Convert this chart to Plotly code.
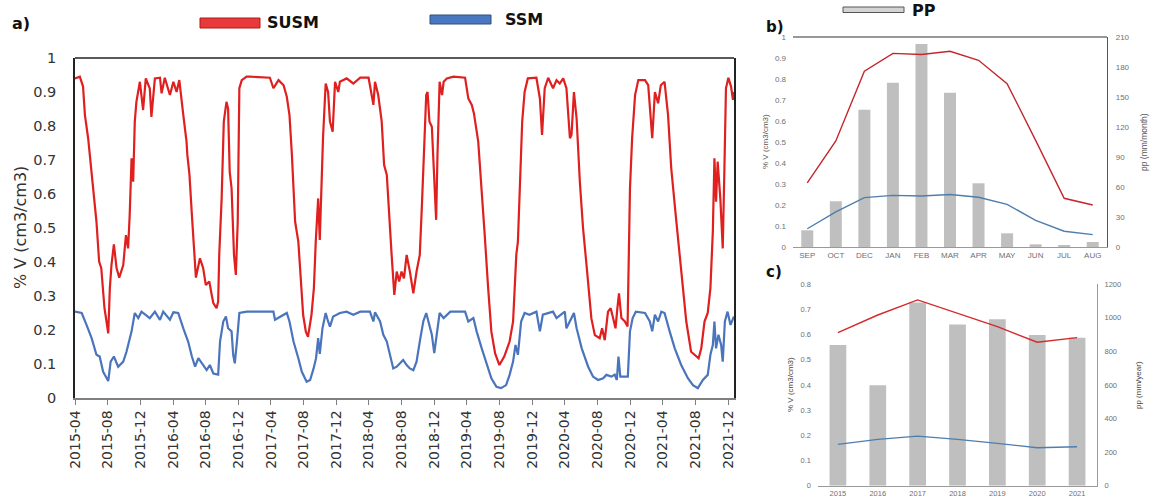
import plotly.graph_objects as go

W, H = 1151, 503

# ---------------- data: panel a (daily soil moisture) ----------------
susm_dates = [
    "2015-04-01","2015-04-19","2015-05-01","2015-05-08","2015-05-20","2015-06-02","2015-06-20","2015-06-30",
    "2015-07-08","2015-07-20","2015-08-03","2015-08-09","2015-08-15","2015-08-24","2015-09-03","2015-09-13",
    "2015-09-28","2015-10-08","2015-10-16","2015-10-22","2015-10-29","2015-11-04","2015-11-10","2015-11-16",
    "2015-11-29","2015-12-11","2015-12-21","2016-01-05","2016-01-11","2016-01-24","2016-02-12","2016-02-18",
    "2016-03-01","2016-03-20","2016-04-02","2016-04-14","2016-04-24","2016-05-09","2016-05-21","2016-05-24",
    "2016-06-01","2016-06-10","2016-06-18","2016-06-25","2016-07-10","2016-07-22","2016-08-01","2016-08-14",
    "2016-08-23","2016-08-29","2016-09-10","2016-09-16","2016-09-20","2016-09-29","2016-10-07","2016-10-17",
    "2016-10-23","2016-10-29","2016-11-05","2016-11-14","2016-11-21","2016-11-28","2016-12-04","2016-12-13",
    "2016-12-31","2017-01-13","2017-03-28","2017-04-10","2017-04-29","2017-05-18","2017-05-30","2017-06-09",
    "2017-06-18","2017-06-24","2017-06-30","2017-07-12","2017-07-21","2017-07-30","2017-08-09","2017-08-17",
    "2017-08-30","2017-09-08","2017-09-15","2017-09-24","2017-09-30","2017-10-06","2017-10-12","2017-10-22",
    "2017-10-31","2017-11-07","2017-11-17","2017-11-26","2017-12-08","2017-12-14","2018-01-08","2018-02-02",
    "2018-02-28","2018-03-31","2018-04-18","2018-04-24","2018-05-06","2018-05-19","2018-05-28","2018-06-07",
    "2018-06-13","2018-06-25","2018-07-05","2018-07-14","2018-07-23","2018-08-01","2018-08-10","2018-08-20",
    "2018-09-01","2018-09-14","2018-09-26","2018-10-08","2018-10-16","2018-10-24","2018-11-01","2018-11-06",
    "2018-11-13","2018-11-22","2018-12-01","2018-12-08","2018-12-13","2018-12-21","2018-12-30","2019-01-05",
    "2019-01-17","2019-02-11","2019-03-26","2019-04-07","2019-04-20","2019-04-28","2019-05-14","2019-05-27",
    "2019-06-08","2019-06-20","2019-07-02","2019-07-16","2019-08-01","2019-08-19","2019-09-08","2019-09-21",
    "2019-09-27","2019-10-03","2019-10-09","2019-10-15","2019-10-25","2019-11-03","2019-11-15","2019-12-17",
    "2019-12-30","2020-01-07","2020-01-17","2020-01-30","2020-02-17","2020-03-01","2020-03-13","2020-03-26",
    "2020-04-07","2020-04-20","2020-04-26","2020-05-05","2020-05-15","2020-05-27","2020-06-08","2020-06-21",
    "2020-07-09","2020-07-22","2020-08-09","2020-08-18","2020-08-28","2020-09-09","2020-09-19","2020-09-28",
    "2020-10-07","2020-10-14","2020-10-20","2020-10-29","2020-11-11","2020-11-21","2020-11-30","2020-12-08",
    "2020-12-19","2020-12-31","2021-01-25","2021-02-06","2021-02-12","2021-02-21","2021-03-03","2021-03-15",
    "2021-03-25","2021-04-08","2021-04-21","2021-05-03","2021-05-22","2021-06-09","2021-06-28","2021-07-16",
    "2021-08-04","2021-08-13","2021-08-23","2021-09-04","2021-09-16","2021-09-26","2021-10-05","2021-10-11",
    "2021-10-17","2021-10-23","2021-11-02","2021-11-11","2021-11-17","2021-11-23","2021-12-02","2021-12-12",
    "2021-12-19","2021-12-23",
]
susm_values = [
    0.940,0.945,0.916,0.832,0.764,0.656,0.519,0.401,
    0.382,0.264,0.190,0.323,0.391,0.452,0.382,0.354,
    0.391,0.479,0.440,0.538,0.705,0.636,0.813,0.871,
    0.930,0.847,0.940,0.910,0.827,0.940,0.942,0.896,
    0.942,0.891,0.930,0.900,0.935,0.832,0.754,0.715,
    0.656,0.538,0.421,0.354,0.411,0.382,0.332,0.343,
    0.303,0.279,0.264,0.284,0.421,0.587,0.813,0.871,
    0.851,0.666,0.617,0.421,0.362,0.519,0.911,0.935,
    0.945,0.945,0.942,0.911,0.935,0.920,0.886,0.832,
    0.715,0.617,0.519,0.460,0.342,0.244,0.195,0.180,
    0.244,0.323,0.460,0.587,0.465,0.617,0.764,0.925,
    0.900,0.813,0.783,0.930,0.900,0.930,0.940,0.925,
    0.942,0.942,0.862,0.930,0.891,0.813,0.685,0.656,
    0.568,0.421,0.303,0.372,0.343,0.372,0.352,0.421,
    0.372,0.308,0.372,0.421,0.568,0.715,0.891,0.900,
    0.813,0.798,0.617,0.524,0.715,0.930,0.891,0.930,
    0.940,0.945,0.942,0.881,0.862,0.837,0.754,0.617,
    0.470,0.323,0.195,0.131,0.097,0.122,0.166,0.225,
    0.323,0.421,0.460,0.617,0.813,0.900,0.940,0.942,
    0.881,0.774,0.911,0.942,0.911,0.935,0.925,0.940,
    0.911,0.764,0.774,0.900,0.822,0.636,0.499,0.391,
    0.234,0.185,0.176,0.205,0.170,0.254,0.264,0.235,
    0.205,0.264,0.308,0.235,0.225,0.210,0.617,0.764,
    0.891,0.935,0.935,0.920,0.862,0.764,0.900,0.867,
    0.920,0.930,0.832,0.675,0.519,0.372,0.225,0.136,
    0.122,0.117,0.146,0.225,0.250,0.323,0.489,0.705,
    0.577,0.695,0.587,0.440,0.666,0.911,0.942,0.916,
    0.877,0.900,
]

ssm_dates = [
    "2015-04-01","2015-04-26","2015-05-14","2015-06-02","2015-06-20","2015-07-02","2015-07-15","2015-08-03",
    "2015-08-12","2015-08-24","2015-09-09","2015-09-28","2015-10-10","2015-10-20","2015-10-29","2015-11-10",
    "2015-11-23","2015-12-05","2016-01-05","2016-01-24","2016-02-12","2016-02-24","2016-03-20","2016-04-02",
    "2016-04-20","2016-05-09","2016-05-27","2016-06-10","2016-06-22","2016-07-04","2016-07-17","2016-08-04",
    "2016-08-16","2016-08-29","2016-09-16","2016-09-23","2016-10-05","2016-10-15","2016-10-23","2016-11-05",
    "2016-11-11","2016-11-17","2016-11-25","2016-12-04","2016-12-31","2017-04-10","2017-04-16","2017-05-30",
    "2017-06-09","2017-06-24","2017-07-12","2017-07-25","2017-08-12","2017-08-25","2017-09-07","2017-09-16",
    "2017-09-24","2017-09-30","2017-10-10","2017-10-22","2017-10-31","2017-11-07","2017-11-19","2017-12-14",
    "2018-01-08","2018-02-02","2018-02-28","2018-04-05","2018-04-18","2018-04-24","2018-05-13","2018-05-25",
    "2018-06-07","2018-06-19","2018-07-01","2018-07-14","2018-07-27","2018-08-07","2018-08-20","2018-09-01",
    "2018-09-14","2018-09-26","2018-10-08","2018-10-21","2018-11-01","2018-11-09","2018-11-22","2018-12-01",
    "2018-12-10","2018-12-21","2019-01-05","2019-01-30","2019-03-26","2019-04-07","2019-04-26","2019-05-08",
    "2019-05-27","2019-06-15","2019-07-02","2019-07-21","2019-08-07","2019-08-26","2019-09-08","2019-09-21",
    "2019-09-30","2019-10-09","2019-10-21","2019-11-03","2019-11-21","2019-12-17","2019-12-30","2020-01-10",
    "2020-02-17","2020-03-01","2020-04-01","2020-04-07","2020-04-26","2020-05-05","2020-05-15","2020-06-03",
    "2020-06-27","2020-07-15","2020-08-03","2020-08-22","2020-09-03","2020-09-22","2020-10-04","2020-10-12",
    "2020-10-18","2020-10-25","2020-11-10","2020-11-22","2020-11-30","2020-12-10","2020-12-22","2021-01-25",
    "2021-02-12","2021-02-21","2021-03-03","2021-03-15","2021-03-27","2021-04-08","2021-04-27","2021-05-16",
    "2021-06-09","2021-07-04","2021-07-23","2021-08-10","2021-08-29","2021-09-16","2021-09-26","2021-10-05",
    "2021-10-11","2021-10-17","2021-10-26","2021-11-05","2021-11-11","2021-11-19","2021-11-29","2021-12-10",
    "2021-12-23",
]
ssm_values = [
    0.254,0.250,0.215,0.176,0.127,0.122,0.077,0.050,
    0.107,0.122,0.092,0.107,0.136,0.166,0.196,0.250,
    0.235,0.254,0.235,0.254,0.230,0.254,0.230,0.252,
    0.250,0.205,0.166,0.122,0.092,0.117,0.102,0.082,
    0.097,0.072,0.069,0.166,0.225,0.240,0.205,0.196,
    0.127,0.102,0.166,0.250,0.254,0.254,0.230,0.250,
    0.225,0.166,0.117,0.077,0.048,0.053,0.087,0.117,
    0.176,0.130,0.205,0.250,0.225,0.210,0.240,0.250,
    0.254,0.245,0.254,0.254,0.225,0.252,0.225,0.186,
    0.166,0.127,0.087,0.092,0.102,0.112,0.097,0.087,
    0.082,0.107,0.166,0.225,0.250,0.225,0.186,0.132,
    0.186,0.250,0.235,0.254,0.254,0.225,0.235,0.196,
    0.146,0.097,0.058,0.033,0.029,0.038,0.068,0.107,
    0.156,0.127,0.225,0.250,0.245,0.254,0.196,0.245,
    0.254,0.235,0.254,0.205,0.235,0.250,0.205,0.146,
    0.092,0.063,0.053,0.058,0.068,0.063,0.069,0.053,
    0.122,0.063,0.063,0.063,0.196,0.235,0.254,0.250,
    0.225,0.196,0.245,0.225,0.254,0.250,0.196,0.146,
    0.097,0.058,0.038,0.029,0.053,0.068,0.127,0.156,
    0.225,0.146,0.186,0.156,0.107,0.225,0.254,0.215,
    0.240,
]

a_tick_dates = ["2015-04-01","2015-08-01","2015-12-01","2016-04-01","2016-08-01","2016-12-01",
                "2017-04-01","2017-08-01","2017-12-01","2018-04-01","2018-08-01","2018-12-01",
                "2019-04-01","2019-08-01","2019-12-01","2020-04-01","2020-08-01","2020-12-01",
                "2021-04-01","2021-08-01","2021-12-01"]
a_tick_labels = [d[:7] for d in a_tick_dates]

# ---------------- data: panel b (monthly means) ----------------
months = ["SEP","OCT","DEC","JAN","FEB","MAR","APR","MAY","JUN","JUL","AUG"]
pp_month = [16.7, 45.7, 137.3, 164.3, 203.0, 154.3, 63.7, 13.7, 2.7, 1.7, 5.0]
susm_month = [0.305, 0.505, 0.837, 0.922, 0.917, 0.932, 0.889, 0.778, 0.508, 0.232, 0.200]
ssm_month = [0.087, 0.167, 0.235, 0.246, 0.243, 0.250, 0.237, 0.203, 0.127, 0.075, 0.059]

# ---------------- data: panel c (annual means) ----------------
years = ["2015","2016","2017","2018","2019","2020","2021"]
pp_year = [838, 598, 1091, 960, 992, 898, 882]
susm_year = [0.608, 0.678, 0.738, 0.685, 0.632, 0.570, 0.588]
ssm_year = [0.164, 0.184, 0.197, 0.184, 0.168, 0.151, 0.155]

# ---------------- helpers for paper coordinates ----------------
def px(x):
    return x / W

def py(y):
    return 1 - y / H

RED = "#e01f1f"
BLUE = "#4a74bc"
BAR = "#bfbfbf"

fig = go.Figure()

# panel a
fig.add_trace(go.Scatter(x=susm_dates, y=susm_values, mode="lines", line=dict(color=RED, width=2.2),
                         xaxis="x", yaxis="y", showlegend=False))
fig.add_trace(go.Scatter(x=ssm_dates, y=ssm_values, mode="lines", line=dict(color=BLUE, width=2.2),
                         xaxis="x", yaxis="y", showlegend=False))

# panel b: bars on right axis (y2), lines on left overlay (y3)
fig.add_trace(go.Bar(x=months, y=pp_month, marker=dict(color=BAR, line=dict(width=0)),
                     xaxis="x2", yaxis="y2", showlegend=False))
fig.add_trace(go.Scatter(x=months, y=susm_month, mode="lines", line=dict(color="#c4262b", width=1.4),
                         xaxis="x2", yaxis="y3", showlegend=False))
fig.add_trace(go.Scatter(x=months, y=ssm_month, mode="lines", line=dict(color="#4d7eac", width=1.4),
                         xaxis="x2", yaxis="y3", showlegend=False))

# panel c
fig.add_trace(go.Bar(x=years, y=pp_year, marker=dict(color=BAR, line=dict(width=0)),
                     xaxis="x3", yaxis="y4", showlegend=False))
fig.add_trace(go.Scatter(x=years, y=susm_year, mode="lines", line=dict(color="#d42a2a", width=1.4),
                         xaxis="x3", yaxis="y5", showlegend=False))
fig.add_trace(go.Scatter(x=years, y=ssm_year, mode="lines", line=dict(color="#4d7eb0", width=1.4),
                         xaxis="x3", yaxis="y5", showlegend=False))

FA = "DejaVu Sans"
FS = "Liberation Sans"
small_col = "#707070"

a_y = [round(0.1 * i, 1) for i in range(11)]
a_y_text = ["0"] + [str(v) for v in a_y[1:10]] + ["1"]

b_left = [round(0.1 * i, 1) for i in range(11)]
b_left_text = ["0"] + [str(v) for v in b_left[1:10]] + ["1"]
b_right = [30 * i for i in range(8)]
c_left = [round(0.1 * i, 1) for i in range(9)]
c_left_text = ["0"] + [str(v) for v in c_left[1:]]
c_right = [200 * i for i in range(7)]

fig.update_layout(
    width=W, height=H,
    margin=dict(l=0, r=0, t=0, b=0, autoexpand=False),
    paper_bgcolor="white", plot_bgcolor="white",
    bargap=0.58,
    xaxis=dict(domain=[px(75), px(734)], anchor="y", type="date", automargin=False,
               range=["2015-04-01", "2021-12-23"],
               tickvals=a_tick_dates, ticktext=a_tick_labels, tickangle=-90,
               ticks="outside", ticklen=5, tickcolor="#7f7f7f", tickwidth=1.3,
               showline=True, linecolor="#7f7f7f", linewidth=1.5,
               showgrid=False, zeroline=False,
               tickfont=dict(family=FA, size=14, color="#333333")),
    yaxis=dict(domain=[py(398), py(58)], anchor="x", range=[0, 1], automargin=False,
               tickvals=a_y, ticktext=a_y_text,
               showline=True, linecolor="#222222", linewidth=1.5, mirror=True,
               showgrid=False, zeroline=False, ticklabelstandoff=14,
               tickfont=dict(family=FA, size=14.5, color="#333333")),
    xaxis2=dict(domain=[px(793), px(1107)], anchor="y2", type="category", automargin=False,
                showline=True, linecolor="#9a9a9a", linewidth=1,
                showgrid=False, zeroline=False, ticks="",
                tickfont=dict(family=FS, size=8, color=small_col)),
    yaxis2=dict(domain=[py(247), py(37)], anchor="x2", side="right", range=[0, 210], automargin=False,
                tickvals=b_right, showline=True, linecolor="#555555", linewidth=1.2,
                showgrid=False, zeroline=False, ticklabelstandoff=6,
                tickfont=dict(family=FS, size=8, color=small_col)),
    yaxis3=dict(overlaying="y2", anchor="x2", side="left", range=[0, 1], automargin=False,
                tickvals=b_left, ticktext=b_left_text, showline=False,
                showgrid=False, zeroline=False, ticklabelstandoff=6,
                tickfont=dict(family=FS, size=8, color=small_col)),
    xaxis3=dict(domain=[px(818), px(1097)], anchor="y4", type="category", automargin=False,
                showline=True, linecolor="#9a9a9a", linewidth=1,
                showgrid=False, zeroline=False, ticks="",
                tickfont=dict(family=FS, size=7.5, color=small_col)),
    yaxis4=dict(domain=[py(485.7), py(284.3)], anchor="x3", side="right", range=[0, 1200], automargin=False,
                tickvals=c_right, showline=True, linecolor="#9a9a9a", linewidth=1,
                showgrid=False, zeroline=False, ticklabelstandoff=5,
                tickfont=dict(family=FS, size=7.5, color=small_col)),
    yaxis5=dict(overlaying="y4", anchor="x3", side="left", range=[0, 0.8], automargin=False,
                tickvals=c_left, ticktext=c_left_text, showline=False,
                showgrid=False, zeroline=False, ticklabelstandoff=6,
                tickfont=dict(family=FS, size=7.5, color=small_col)),
)

shapes = [
    # top border of panel a
    dict(type="line", xref="x domain", yref="y domain", x0=0, x1=1, y0=1, y1=1,
         line=dict(color="#222222", width=1.5)),
    # top border of panel b
    dict(type="line", xref="x2 domain", yref="y2 domain", x0=0, x1=1, y0=1, y1=1,
         line=dict(color="#333333", width=1.2)),
    # legend swatches
    dict(type="rect", xref="paper", yref="paper", x0=px(200), x1=px(260), y0=py(28), y1=py(18),
         fillcolor="#e83a3a", line=dict(color="#b01818", width=1)),
    dict(type="rect", xref="paper", yref="paper", x0=px(430), x1=px(491), y0=py(24), y1=py(15),
         fillcolor="#4a78c0", line=dict(color="#2f4f80", width=1)),
    dict(type="rect", xref="paper", yref="paper", x0=px(843), x1=px(904), y0=py(12.5), y1=py(7),
         fillcolor="#d4d4d4", line=dict(color="#555555", width=1)),
]
fig.update_layout(shapes=shapes)

def ann(text, x, y, size, bold=False, angle=0, color="#111111", family=FA, xanchor="center"):
    return dict(text=("<b>%s</b>" % text) if bold else text, x=px(x), y=py(y),
                xref="paper", yref="paper", showarrow=False, textangle=angle,
                xanchor=xanchor, yanchor="middle",
                font=dict(family=family, size=size, color=color))

annotations = [
    ann("a)", 10, 24, 16, bold=True, xanchor="left"),
    ann("SUSM", 265, 22, 16, bold=True, xanchor="left"),
    ann("SSM", 503, 20, 16, bold=True, xanchor="left"),
    ann("b)", 764, 27, 15, bold=True, xanchor="left"),
    ann("PP", 910, 10, 16, bold=True, xanchor="left"),
    ann("c)", 764, 272, 15, bold=True, xanchor="left"),
    ann("% V (cm3/cm3)", 20, 228, 16, angle=-90, color="#333333"),
    ann("% V (cm3/cm3)", 765, 142, 8, angle=-90, color="#555555", family=FS),
    ann("pp (mm/month)", 1144, 142, 8.5, angle=-90, color="#555555", family=FS),
    ann("% V (cm3/cm3)", 790, 385, 8, angle=-90, color="#444444", family=FS),
    ann("pp (mm/year)", 1138, 385, 8, angle=-90, color="#444444", family=FS),
]
fig.update_layout(annotations=annotations)

fig.write_html("out.html", config={"displayModeBar": False},
               post_script="document.body.style.margin='0px';document.body.style.overflow='hidden';")
